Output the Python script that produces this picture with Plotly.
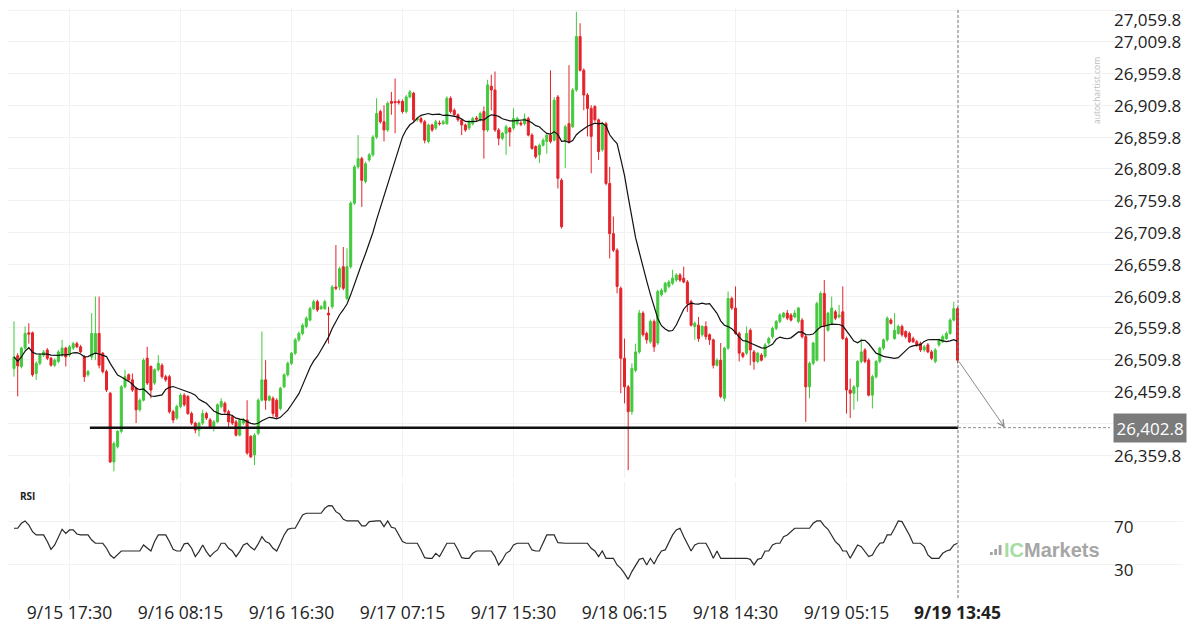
import plotly.graph_objects as go
import pandas as pd

# ---------------- data ----------------
open_ = [
    26496, 26516, 26499, 26528, 26552, 26552, 26488, 26504, 26517, 26525,
    26512, 26501, 26507, 26517, 26528, 26517, 26528, 26535, 26530, 26514,
    26486, 26514, 26520, 26551, 26520, 26491, 26457, 26349, 26373, 26397,
    26467, 26486, 26478, 26465, 26431, 26446, 26512, 26499, 26473, 26494,
    26501, 26483, 26483, 26428, 26418, 26436, 26454, 26452, 26425, 26410,
    26399, 26410, 26425, 26415, 26404, 26412, 26436, 26441, 26428, 26420,
    26412, 26391, 26410, 26415, 26389, 26360, 26394, 26446, 26478, 26446,
    26449, 26446, 26433, 26467, 26486, 26504, 26520, 26541, 26551, 26562,
    26572, 26590, 26601, 26590, 26590, 26583, 26593, 26624, 26624, 26656,
    26606, 26656, 26756, 26813, 26826, 26790, 26824, 26832, 26860, 26900,
    26884, 26871, 26916, 26916, 26916, 26916, 26900, 26923, 26929, 26887,
    26889, 26884, 26853, 26879, 26874, 26882, 26881, 26881, 26921, 26902,
    26895, 26887, 26879, 26874, 26881, 26890, 26887, 26900, 26871, 26940,
    26934, 26871, 26858, 26866, 26874, 26874, 26881, 26882, 26881, 26889,
    26863, 26845, 26832, 26847, 26853, 26863, 26855, 26923, 26792, 26855,
    26881, 26876, 26934, 27018, 26965, 26926, 26905, 26908, 26887, 26840,
    26881, 26787, 26708, 26682, 26622, 26512, 26467, 26428, 26493, 26522,
    26583, 26551, 26538, 26570, 26536, 26612, 26617, 26625, 26630, 26635,
    26643, 26638, 26632, 26601, 26562, 26564, 26549, 26562, 26549, 26541,
    26501, 26509, 26449, 26528, 26606, 26591, 26551, 26520, 26520, 26556,
    26522, 26507, 26517, 26515, 26536, 26546, 26559, 26570, 26577, 26583,
    26580, 26577, 26570, 26572, 26546, 26467, 26504, 26509, 26562, 26614,
    26556, 26567, 26585, 26577, 26585, 26543, 26462, 26457, 26467, 26507,
    26525, 26509, 26454, 26483, 26507, 26528, 26541, 26572, 26543, 26551,
    26562, 26554, 26551, 26543, 26538, 26535, 26525, 26533, 26522, 26507,
    26533, 26538, 26543, 26551, 26572, 26590,
]
high = [
    26570, 26520, 26530, 26562, 26567, 26554, 26507, 26520, 26525, 26528,
    26514, 26512, 26525, 26541, 26530, 26533, 26538, 26538, 26533, 26517,
    26494, 26583, 26609, 26609, 26522, 26494, 26459, 26381, 26399, 26470,
    26494, 26488, 26488, 26467, 26449, 26512, 26530, 26501, 26496, 26517,
    26504, 26486, 26486, 26431, 26439, 26457, 26457, 26454, 26428, 26412,
    26412, 26431, 26428, 26418, 26415, 26441, 26449, 26444, 26431, 26423,
    26415, 26418, 26418, 26446, 26391, 26394, 26449, 26554, 26509, 26454,
    26452, 26449, 26467, 26488, 26507, 26522, 26544, 26554, 26567, 26578,
    26593, 26604, 26604, 26596, 26604, 26593, 26627, 26690, 26656, 26687,
    26685, 26759, 26816, 26863, 26829, 26821, 26835, 26863, 26921, 26903,
    26910, 26916, 26931, 26952, 26919, 26919, 26926, 26934, 26931, 26892,
    26892, 26887, 26881, 26881, 26887, 26886, 26887, 26924, 26924, 26905,
    26897, 26889, 26881, 26887, 26892, 26893, 26900, 26908, 26950, 26958,
    26963, 26874, 26868, 26879, 26876, 26905, 26892, 26885, 26897, 26892,
    26866, 26847, 26850, 26858, 26866, 26965, 26923, 26926, 26795, 26879,
    26973, 26937, 27057, 27039, 26968, 26929, 26910, 26910, 26889, 26884,
    26884, 26813, 26735, 26685, 26625, 26543, 26470, 26504, 26535, 26588,
    26586, 26554, 26573, 26573, 26620, 26622, 26632, 26635, 26651, 26646,
    26646, 26656, 26635, 26604, 26570, 26577, 26564, 26570, 26551, 26543,
    26512, 26536, 26530, 26617, 26609, 26625, 26554, 26522, 26562, 26559,
    26525, 26522, 26520, 26536, 26546, 26562, 26572, 26583, 26585, 26588,
    26583, 26588, 26593, 26575, 26549, 26507, 26538, 26601, 26617, 26635,
    26585, 26609, 26588, 26596, 26625, 26546, 26480, 26470, 26509, 26543,
    26528, 26512, 26486, 26509, 26530, 26543, 26578, 26575, 26583, 26565,
    26565, 26556, 26554, 26546, 26541, 26538, 26533, 26536, 26525, 26528,
    26543, 26549, 26554, 26575, 26601, 26593,
]
low = [
    26483, 26452, 26496, 26525, 26535, 26483, 26478, 26501, 26514, 26509,
    26499, 26498, 26504, 26514, 26499, 26514, 26525, 26528, 26520, 26475,
    26483, 26509, 26509, 26496, 26488, 26459, 26347, 26334, 26370, 26394,
    26465, 26475, 26459, 26410, 26428, 26444, 26470, 26449, 26470, 26491,
    26480, 26475, 26425, 26410, 26415, 26433, 26436, 26423, 26407, 26394,
    26389, 26407, 26415, 26402, 26397, 26410, 26433, 26425, 26404, 26407,
    26389, 26389, 26407, 26360, 26355, 26344, 26391, 26444, 26431, 26444,
    26420, 26418, 26430, 26465, 26483, 26501, 26517, 26538, 26548, 26559,
    26570, 26588, 26585, 26588, 26588, 26535, 26590, 26619, 26619, 26619,
    26603, 26653, 26753, 26810, 26750, 26787, 26821, 26829, 26857, 26881,
    26853, 26868, 26895, 26866, 26911, 26897, 26897, 26921, 26884, 26884,
    26881, 26850, 26850, 26868, 26871, 26878, 26879, 26879, 26897, 26892,
    26884, 26863, 26868, 26871, 26878, 26885, 26884, 26826, 26868, 26902,
    26868, 26847, 26855, 26832, 26845, 26871, 26878, 26877, 26878, 26861,
    26840, 26826, 26819, 26845, 26834, 26850, 26853, 26779, 26716, 26811,
    26850, 26874, 26931, 26963, 26902, 26861, 26803, 26884, 26824, 26837,
    26784, 26669, 26679, 26614, 26457, 26441, 26336, 26423, 26490, 26519,
    26546, 26535, 26535, 26522, 26533, 26609, 26614, 26622, 26627, 26632,
    26632, 26630, 26585, 26562, 26541, 26538, 26546, 26541, 26533, 26496,
    26499, 26449, 26444, 26525, 26588, 26549, 26507, 26512, 26517, 26501,
    26494, 26504, 26507, 26512, 26533, 26543, 26556, 26567, 26575, 26572,
    26570, 26575, 26567, 26543, 26412, 26449, 26501, 26507, 26559, 26507,
    26554, 26564, 26572, 26575, 26541, 26425, 26418, 26431, 26444, 26504,
    26504, 26452, 26433, 26480, 26504, 26525, 26538, 26565, 26541, 26549,
    26546, 26543, 26536, 26536, 26530, 26522, 26522, 26520, 26509, 26504,
    26530, 26536, 26541, 26549, 26570, 26504,
]
close = [
    26514, 26500, 26528, 26551, 26550, 26486, 26504, 26517, 26522, 26512,
    26501, 26509, 26522, 26528, 26514, 26530, 26535, 26530, 26522, 26483,
    26491, 26551, 26551, 26501, 26491, 26462, 26349, 26378, 26397, 26467,
    26483, 26478, 26462, 26431, 26446, 26509, 26473, 26462, 26494, 26504,
    26483, 26478, 26428, 26415, 26436, 26454, 26439, 26425, 26410, 26399,
    26410, 26425, 26418, 26404, 26412, 26439, 26444, 26428, 26412, 26410,
    26391, 26415, 26415, 26363, 26357, 26391, 26446, 26478, 26446, 26452,
    26425, 26420, 26465, 26486, 26504, 26520, 26541, 26551, 26564, 26575,
    26590, 26601, 26588, 26593, 26601, 26580, 26624, 26622, 26653, 26622,
    26656, 26756, 26813, 26826, 26792, 26818, 26832, 26860, 26897, 26884,
    26871, 26913, 26913, 26914, 26914, 26900, 26923, 26931, 26887, 26889,
    26884, 26855, 26879, 26871, 26884, 26881, 26884, 26921, 26900, 26895,
    26887, 26879, 26871, 26884, 26889, 26888, 26897, 26871, 26942, 26934,
    26871, 26858, 26866, 26876, 26868, 26889, 26889, 26880, 26889, 26863,
    26842, 26829, 26847, 26855, 26863, 26853, 26918, 26795, 26719, 26876,
    26853, 26934, 27018, 26965, 26926, 26905, 26861, 26887, 26837, 26881,
    26787, 26708, 26682, 26625, 26512, 26467, 26428, 26496, 26522, 26583,
    26549, 26541, 26570, 26530, 26617, 26619, 26630, 26632, 26638, 26643,
    26635, 26632, 26598, 26564, 26567, 26543, 26562, 26546, 26541, 26501,
    26509, 26452, 26528, 26606, 26591, 26551, 26520, 26515, 26551, 26525,
    26507, 26520, 26509, 26533, 26543, 26559, 26570, 26580, 26583, 26575,
    26572, 26583, 26591, 26546, 26467, 26504, 26536, 26598, 26614, 26562,
    26583, 26591, 26575, 26580, 26543, 26462, 26457, 26467, 26507, 26522,
    26507, 26454, 26483, 26507, 26528, 26541, 26575, 26567, 26556, 26562,
    26549, 26546, 26538, 26538, 26533, 26525, 26530, 26522, 26512, 26525,
    26541, 26546, 26551, 26572, 26590, 26509,
]
rsi = [
    63.8, 63.8, 68.5, 70.7, 66.9, 60.6, 57.5, 57.5, 57.5, 51.2,
    43.9, 48.0, 55.9, 62.8, 59.0, 62.2, 62.2, 58.4, 57.5, 57.5,
    57.5, 52.7, 49.6, 49.6, 49.6, 44.9, 38.5, 35.4, 38.5, 42.3,
    42.3, 42.3, 42.3, 42.3, 42.3, 48.0, 44.9, 42.3, 51.2, 57.5,
    57.5, 57.5, 51.2, 43.9, 42.3, 42.3, 49.0, 49.6, 44.9, 37.0,
    41.7, 48.0, 41.7, 37.0, 40.8, 43.3, 49.6, 49.6, 44.9, 42.3,
    37.0, 41.7, 48.0, 49.6, 45.8, 43.3, 49.0, 55.9, 51.2, 49.6,
    44.9, 42.3, 49.6, 57.5, 62.8, 63.8, 63.8, 70.1, 76.4, 78.0,
    78.0, 78.0, 78.0, 78.0, 82.7, 85.2, 84.9, 79.5, 77.3, 72.3,
    70.7, 70.7, 70.7, 70.7, 66.0, 66.0, 70.1, 70.7, 70.7, 70.7,
    65.3, 70.7, 64.7, 63.8, 57.5, 51.2, 49.6, 49.6, 49.6, 49.6,
    43.3, 36.0, 35.4, 35.4, 40.1, 37.0, 43.3, 49.6, 49.6, 49.6,
    43.3, 36.0, 35.4, 35.4, 40.1, 42.3, 42.3, 42.3, 42.3, 42.3,
    37.0, 29.1, 33.8, 40.1, 42.3, 48.0, 49.6, 49.6, 49.6, 49.6,
    43.3, 42.3, 42.3, 50.2, 57.5, 57.5, 57.5, 50.2, 49.6, 49.6,
    49.6, 49.6, 49.6, 49.6, 49.6, 49.6, 44.9, 42.3, 37.0, 42.3,
    35.4, 35.4, 35.4, 29.1, 25.9, 21.2, 15.5, 22.8, 29.1, 34.4,
    35.4, 29.1, 35.4, 30.0, 37.0, 42.3, 43.3, 51.2, 57.5, 62.2,
    63.8, 55.9, 49.6, 42.3, 48.0, 49.6, 49.6, 49.6, 43.3, 35.4,
    42.3, 35.4, 35.4, 35.4, 35.4, 35.4, 35.4, 35.4, 35.4, 34.4,
    29.1, 34.4, 35.4, 42.3, 42.3, 48.0, 49.6, 49.6, 55.9, 57.5,
    60.6, 63.8, 63.8, 63.8, 63.8, 63.8, 68.5, 70.7, 70.7, 66.0,
    62.8, 57.5, 51.2, 48.0, 42.3, 42.3, 35.4, 41.7, 48.0, 46.4,
    41.7, 37.0, 38.5, 44.9, 49.6, 50.2, 57.5, 57.5, 63.8, 70.7,
    70.1, 63.8, 57.5, 49.6, 49.6, 49.6, 46.4, 38.5, 35.4, 35.4,
    35.4, 40.1, 42.3, 43.3, 48.0, 49.6,
]
tick_pos = [15, 45, 75, 105, 135, 165, 195, 225, 255]
tick_text = ["9/15 17:30", "9/16 08:15", "9/16 16:30", "9/17 07:15",
             "9/17 15:30", "9/18 06:15", "9/18 14:30", "9/19 05:15",
             "<b>9/19 13:45</b>"]
# gridline values of the price axis
price_grid = [26359.8, 26409.8, 26459.8, 26509.8, 26559.8, 26609.8,
              26659.8, 26709.8, 26759.8, 26809.8, 26859.8, 26909.8,
              26959.8, 27009.8, 27059.8]
# labels visible in the reference (26,409.8 is hidden behind the level tag)
price_label_vals = [26359.8, 26459.8, 26509.8, 26559.8, 26609.8,
                    26659.8, 26709.8, 26759.8, 26809.8, 26859.8, 26909.8,
                    26959.8, 27009.8, 27059.8]
price_labels = ["26,359.8", "26,459.8", "26,509.8", "26,559.8",
                "26,609.8", "26,659.8", "26,709.8", "26,759.8", "26,809.8",
                "26,859.8", "26,909.8", "26,959.8", "27,009.8", "27,059.8"]
rsi_ticks = [30, 70]
rsi_labels = ["30", "70"]
level = 26402.8
level_label = "26,402.8"
level_start = 20.5
ma_period = 15

# ---------------- figure ----------------
GREEN = "#43c93d"
RED = "#e3232a"
GRID = "#f2f2f2"
FONT = "Open Sans"
TXT = "#222222"
FS = 17
PW = 1175.0   # plot-area width in px
PH = 592.0    # plot-area height in px
LABEL_X = 1104 / PW

n = len(close)
x = list(range(n))
last = n - 1 + 0.15
ma = pd.Series(close).rolling(ma_period, min_periods=1).mean()

fig = go.Figure()
fig.add_trace(go.Candlestick(
    x=x, open=open_, high=high, low=low, close=close,
    increasing=dict(line=dict(color=GREEN, width=1), fillcolor=GREEN),
    decreasing=dict(line=dict(color=RED, width=1), fillcolor=RED),
    whiskerwidth=0, showlegend=False, hoverinfo="skip",
    xaxis="x", yaxis="y"))
fig.add_trace(go.Scatter(
    x=x, y=ma, mode="lines", line=dict(color="#111111", width=1.2),
    showlegend=False, hoverinfo="skip", xaxis="x", yaxis="y"))
fig.add_trace(go.Scatter(
    x=x, y=rsi, mode="lines", line=dict(color="#2a2a2a", width=1.2),
    showlegend=False, hoverinfo="skip", xaxis="x2", yaxis="y2"))

xr = [-1.6216, 315.95]
fig.update_layout(
    width=1200, height=630,
    margin=dict(l=0, r=25, t=0, b=38),
    paper_bgcolor="white", plot_bgcolor="white",
    font=dict(family=FONT, color=TXT, size=FS),
    boxgap=0.22,
    xaxis=dict(domain=[0, 1], range=xr, anchor="y", showticklabels=False,
               tickvals=tick_pos, showgrid=True, gridcolor=GRID,
               zeroline=False, showline=False, ticks="",
               rangeslider=dict(visible=False)),
    xaxis2=dict(domain=[0, 1], range=xr, anchor="y2", matches="x",
                tickvals=tick_pos, ticktext=tick_text,
                tickfont=dict(size=17.5, color=TXT, family=FONT),
                showgrid=True, gridcolor=GRID, zeroline=False,
                showline=False, ticks=""),
    yaxis=dict(domain=[0.206081, 1], range=[26323.64, 27062.946], anchor="x",
               side="right", tickvals=price_grid, showticklabels=False,
               ticks="", showgrid=True, gridcolor=GRID, zeroline=False,
               showline=False),
    yaxis2=dict(domain=[0, 0.19932], range=[-4.04, 107.54], anchor="x2",
                side="right", tickvals=rsi_ticks, showticklabels=False,
                ticks="", showgrid=True, gridcolor=GRID, zeroline=False,
                showline=False),
    hovermode=False,
)

shapes = [
    dict(type="line", xref="x", yref="y", x0=level_start, x1=last,
         y0=level, y1=level, line=dict(color="#111111", width=2.5)),
    dict(type="line", xref="x", yref="y", x0=last, x1=296.2,
         y0=level, y1=level, line=dict(color="#8a8a8a", width=1, dash="3px,2px")),
    dict(type="line", xref="x", yref="paper", x0=last, x1=last,
         y0=0.0034, y1=1.0, line=dict(color="#7a7a7a", width=1, dash="3px,2px")),
    # IC Markets logo bars
    dict(type="rect", xref="paper", yref="paper", x0=982 / PW, x1=984.7 / PW,
         y0=1 - 547 / PH, y1=1 - 544 / PH, fillcolor="#a3a3a3", line=dict(width=0)),
    dict(type="rect", xref="paper", yref="paper", x0=986.3 / PW, x1=989 / PW,
         y0=1 - 547 / PH, y1=1 - 541 / PH, fillcolor="#a3a3a3", line=dict(width=0)),
    dict(type="rect", xref="paper", yref="paper", x0=990.7 / PW, x1=993.5 / PW,
         y0=1 - 547 / PH, y1=1 - 537 / PH, fillcolor="#a3a3a3", line=dict(width=0)),
]
fig.update_layout(shapes=shapes)

annotations = []
for val, lab in zip(price_label_vals, price_labels):
    annotations.append(dict(
        text=lab, xref="paper", yref="y", x=LABEL_X, y=val,
        xanchor="left", yanchor="middle", showarrow=False,
        yshift=-9 if val == price_label_vals[-1] else 0,
        font=dict(size=FS, color=TXT, family=FONT)))
for val, lab in zip(rsi_ticks, rsi_labels):
    annotations.append(dict(
        text=lab, xref="paper", yref="y2", x=LABEL_X, y=val,
        xanchor="left", yanchor="middle", yshift=-5, showarrow=False,
        font=dict(size=FS, color=TXT, family=FONT)))
annotations += [
    dict(text="", xref="x", yref="y", x=267.8, y=level,
         axref="x", ayref="y", ax=last, ay=close[-1],
         showarrow=True, arrowhead=5, arrowsize=1.3, arrowwidth=1,
         arrowcolor="#8a8a8a", standoff=0, startstandoff=0),
    dict(text=level_label, xref="paper", yref="y", x=1105 / PW, y=level,
         xanchor="left", yanchor="middle", showarrow=False,
         font=dict(size=FS, color="white", family=FONT),
         bgcolor="#7b7b7b", borderpad=2.5),
    dict(text="autochartist.com", xref="paper", yref="paper",
         x=1096 / PW, y=1 - 47 / PH, textangle=-90, showarrow=False,
         font=dict(size=8.5, color="#bdbdbd", family=FONT)),
    dict(text="<b>RSI</b>", xref="paper", yref="paper", x=10 / PW,
         y=1 - 488 / PH, xanchor="left", yanchor="middle", showarrow=False,
         font=dict(size=10, color=TXT, family=FONT)),
    dict(text="<b><span style='color:#a6dca4'>IC</span>Markets</b>",
         xref="paper", yref="paper", x=994 / PW, y=1 - 542 / PH,
         xanchor="left", yanchor="middle", showarrow=False,
         font=dict(size=20, color="#a6a6a6", family="Liberation Sans")),
]
fig.update_layout(annotations=annotations)

fig.write_html("out.html")
